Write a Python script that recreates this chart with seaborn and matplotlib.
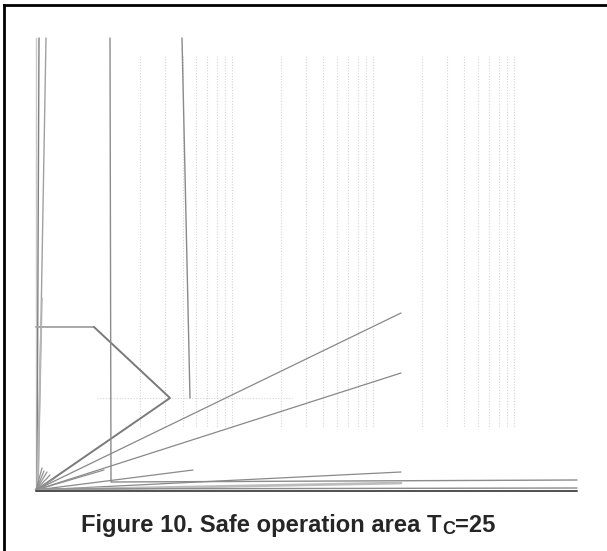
import matplotlib
matplotlib.use("Agg")
import matplotlib.pyplot as plt
import seaborn as sns
import pandas as pd

sns.set_style("white")
plt.rcParams['font.family'] = ['Liberation Sans', 'DejaVu Sans']

# ---- data (pixel-space coordinates of the garbled SOA chart) ----
# dotted vertical grid lines (x positions) and their vertical extent
grid_x = [140, 165, 183, 196, 207, 217, 225, 232,
          281, 306, 323, 337, 348, 358, 366, 373,
          422, 447, 464, 478, 489, 499, 507, 514]
grid_top = 56
grid_bottom = 427
# dotted horizontal line
hgrid_y = [398]
hgrid_x0 = [97]
hgrid_x1 = [292]

# solid polylines: each entry is a list of x / y vertices, a gray level and a width
line_x = [
    [36, 36], [39, 37], [46, 38], [42, 38], [41, 37],          # near-vertical left cluster
    [36, 94],                                                  # SOA top flat
    [94, 170, 38],                                             # SOA diagonal + return
    [110, 111, 577],                                           # vertical + bottom
    [182, 190],                                                # slanted vertical
    [36, 401], [36, 401], [36, 193], [36, 104], [36, 401],     # fan
    [36, 401],
    [36, 42], [36, 44], [36, 47], [36, 50], [36, 55],          # short spikes
    [36, 577], [36, 577],                                      # base lines
]
line_y = [
    [38, 491], [38, 491], [38, 491], [298, 491], [320, 491],
    [327, 327],
    [327, 398, 489],
    [38, 482, 480],
    [38, 398],
    [490, 313], [490, 373], [490, 470], [490, 470], [490, 472],
    [490, 483],
    [490, 468], [490, 471], [490, 472], [490, 475], [490, 478],
    [489, 488], [491, 491],
]
line_gray = [
    "#c8c8c8", "#808080", "#a0a0a0", "#b0b0b0", "#b8b8b8",
    "#a8a8a8",
    "#7a7a7a",
    "#8c8c8c",
    "#8a8a8a",
    "#888888", "#888888", "#8a8a8a", "#909090", "#8a8a8a",
    "#bdbdbd",
    "#909090", "#909090", "#909090", "#909090", "#909090",
    "#8a8a8a", "#505050",
]
line_w = [
    1.0, 1.0, 1.0, 1.0, 1.0,
    1.4,
    1.4,
    1.0,
    1.0,
    0.9, 0.9, 0.9, 0.9, 0.9,
    2.0,
    0.9, 0.9, 0.9, 0.9, 0.9,
    1.0, 1.4,
]

title_main = "Figure 10. Safe operation area T"
title_sub = "C"
title_tail = "=25"

# ---- figure ----
fig = plt.figure(figsize=(6.07, 5.51), dpi=100)
ax = fig.add_axes([4 / 607, 0, 603 / 607, 546 / 551])
ax.set_xlim(4, 607)
ax.set_ylim(551, 5)
for s in ["right", "bottom"]:
    ax.spines[s].set_visible(False)
for s in ["top", "left"]:
    ax.spines[s].set_color("black")
    ax.spines[s].set_linewidth(2.0)
ax.set_xticks([])
ax.set_yticks([])

# dotted grid
rows = []
for i, gx in enumerate(grid_x):
    rows.append(dict(seg=i, x=gx, y=grid_top))
    rows.append(dict(seg=i, x=gx, y=grid_bottom))
for j, (hy, hx0, hx1) in enumerate(zip(hgrid_y, hgrid_x0, hgrid_x1)):
    rows.append(dict(seg=100 + j, x=hx0, y=hy))
    rows.append(dict(seg=100 + j, x=hx1, y=hy))
gdf = pd.DataFrame(rows)
sns.lineplot(data=gdf, x="x", y="y", units="seg", estimator=None, sort=False,
             color="#d4d4d4", linewidth=0.8, linestyle=(0, (1, 1.5)), ax=ax)

# solid lines
for xs, ys, g, w in zip(line_x, line_y, line_gray, line_w):
    sns.lineplot(x=xs, y=ys, estimator=None, sort=False,
                 color=g, linewidth=w, ax=ax)
ax.set_xlim(4, 607)
ax.set_ylim(551, 5)
ax.set_xlabel("")
ax.set_ylabel("")


# title (bold, with subscript C)
def draw_title(fs):
    r = fig.canvas.get_renderer()
    y_base = 1 - 532 / 551
    t1 = fig.text(81 / 607, y_base, title_main, fontsize=fs, fontweight="bold",
                  va="baseline", ha="left")
    bb = t1.get_window_extent(r)
    t2 = fig.text((bb.x1 + 0.5) / 607, y_base - 1.5 / 551, title_sub, fontsize=fs * 0.76,
                  fontweight="bold", va="baseline", ha="left")
    bb2 = t2.get_window_extent(r)
    t3 = fig.text(bb2.x1 / 607, y_base, title_tail, fontsize=fs, fontweight="bold",
                  va="baseline", ha="left")
    bb3 = t3.get_window_extent(r)
    return [t1, t2, t3], bb3.x1 - bb.x0


fig.canvas.draw()
texts, width = draw_title(17.0)
for t in texts:
    t.remove()
fs = 17.0 * 415 / width
draw_title(fs)

fig.savefig("out.png", dpi=100)
